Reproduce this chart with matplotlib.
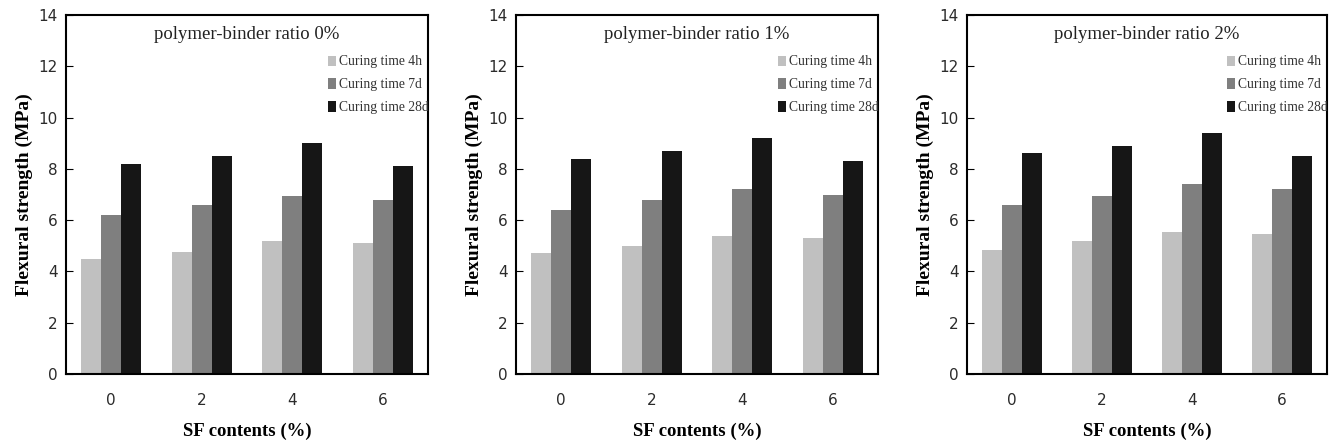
import matplotlib
matplotlib.use("Agg")
import matplotlib.pyplot as plt
import numpy as np

sf_contents = ["0", "2", "4", "6"]
series_names = ["Curing time 4h", "Curing time 7d", "Curing time 28d"]
panel_titles = ["polymer-binder ratio 0%", "polymer-binder ratio 1%", "polymer-binder ratio 2%"]

p0_4h = [4.5, 4.75, 5.2, 5.1]
p0_7d = [6.2, 6.6, 6.95, 6.8]
p0_28d = [8.2, 8.5, 9.0, 8.1]

p1_4h = [4.7, 5.0, 5.4, 5.3]
p1_7d = [6.4, 6.8, 7.2, 7.0]
p1_28d = [8.4, 8.7, 9.2, 8.3]

p2_4h = [4.85, 5.2, 5.55, 5.45]
p2_7d = [6.6, 6.95, 7.4, 7.2]
p2_28d = [8.6, 8.9, 9.4, 8.5]

panels = [[p0_4h, p0_7d, p0_28d], [p1_4h, p1_7d, p1_28d], [p2_4h, p2_7d, p2_28d]]
colors = ["#c0c0c0", "#7f7f7f", "#161616"]

fig = plt.figure(figsize=(13.3, 4.44), dpi=100)
W, H = 1330, 444
boxes = [(66, 428), (516, 878), (967, 1327)]
top, bottom = 15, 374

x = np.arange(len(sf_contents))
bw = 0.22
for i, (l, r) in enumerate(boxes):
    ax = fig.add_axes([l / W, 1 - bottom / H, (r - l) / W, (bottom - top) / H])
    for j, vals in enumerate(panels[i]):
        ax.bar(x + (j - 1) * bw, vals, width=bw, color=colors[j], label=series_names[j])
    ax.set_xlim(-0.5, 3.5)
    ax.set_ylim(0, 14)
    ax.set_yticks(range(0, 15, 2))
    ax.set_xticks(x)
    ax.set_xticklabels(sf_contents)
    ax.tick_params(axis="y", direction="in", length=5, labelsize=11, labelcolor="#2b2b2b", pad=6)
    ax.tick_params(axis="x", length=0, labelsize=11, labelcolor="#2b2b2b", pad=14)
    for s in ax.spines.values():
        s.set_linewidth(1.5)
    ax.set_xlabel("SF contents (%)", family="Liberation Serif", fontweight="bold", fontsize=13.5, labelpad=10)
    ax.set_ylabel("Flexural strength (MPa)", family="Liberation Serif", fontweight="bold", fontsize=14, labelpad=4)
    ax.text(0.5, 0.945, panel_titles[i], transform=ax.transAxes, ha="center", va="center",
            family="Liberation Serif", fontsize=13.5, color="#222222")
    leg = ax.legend(loc="upper right", bbox_to_anchor=(1.025, 0.91), frameon=False,
                    prop={"family": "Liberation Serif", "size": 9.8},
                    handlelength=0.6, handleheight=0.8, handletextpad=0.2, labelspacing=0.72,
                    borderaxespad=0.2)
    for t in leg.get_texts():
        t.set_color("#333333")

fig.savefig("out.png", dpi=100)
